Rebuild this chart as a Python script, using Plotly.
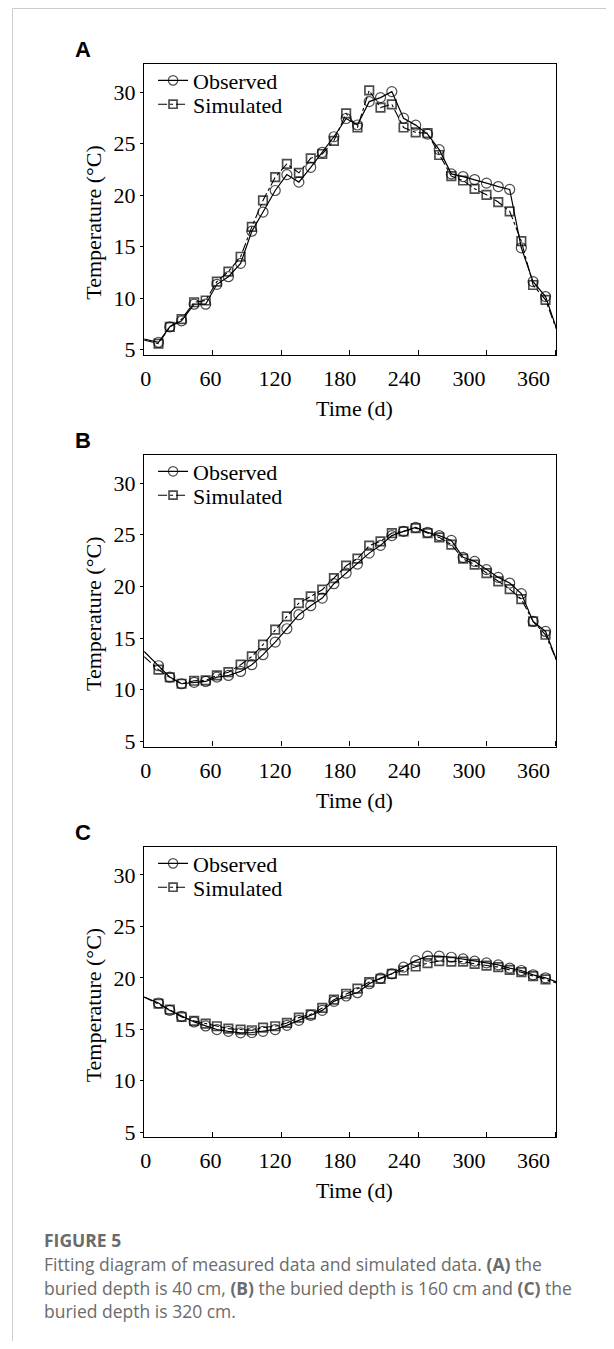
import plotly.graph_objects as go

# ---------------- data ----------------
days = [12.6, 22.5, 32.8, 43.8, 53.9, 63.7, 73.8, 84.5, 94.3, 104.1, 114.8, 125.0,
        135.5, 145.9, 156.0, 166.2, 176.9, 186.8, 197.1, 207.0, 216.9, 227.2, 237.8,
        248.2, 258.4, 269.0, 279.3, 289.4, 299.8, 310.1, 320.1, 330.3, 340.6, 351.5]
line_end_days = [0, 361]

a_obs = [5.73, 7.23, 7.81, 9.42, 9.42, 11.35, 12.09, 13.38, 16.5, 18.36, 20.45, 21.99,
         21.26, 22.7, 24.15, 25.66, 27.43, 26.8, 29.07, 29.46, 30.04, 27.46, 26.79,
         25.92, 24.41, 22.06, 21.8, 21.51, 21.16, 20.83, 20.55, 14.89, 11.61, 10.16]
a_obs_ends = [6.04, 7.1]
a_sim = [5.59, 7.23, 7.97, 9.61, 9.78, 11.61, 12.58, 14.02, 16.92, 19.49, 21.74, 23.03,
         22.16, 23.57, 23.99, 25.27, 27.92, 26.56, 30.16, 28.49, 28.81, 26.56, 26.08,
         26.01, 23.89, 21.84, 21.42, 20.61, 20.03, 19.33, 18.43, 15.53, 11.28, 9.84]
a_sim_ends = [5.95, 7.0]

b_obs = [12.32, 11.22, 10.58, 10.71, 10.8, 11.22, 11.38, 11.77, 12.42, 13.39, 14.61, 15.9,
         17.26, 18.13, 18.87, 20.26, 21.29, 22.16, 23.22, 23.97, 24.91, 25.32, 25.71,
         25.23, 24.91, 24.45, 22.81, 22.42, 21.62, 20.87, 20.32, 19.3, 16.61, 15.64]
b_obs_ends = [13.7, 12.9]
b_sim = [11.94, 11.19, 10.58, 10.87, 10.9, 11.38, 11.7, 12.42, 13.22, 14.36, 15.81, 17.1,
         18.38, 19.03, 19.68, 20.8, 22.0, 22.68, 23.94, 24.36, 25.16, 25.32, 25.64,
         25.16, 24.74, 24.04, 22.68, 22.1, 21.29, 20.48, 19.74, 18.77, 16.61, 15.32]
b_sim_ends = [13.2, 12.9]

c_obs = [17.55, 16.83, 16.25, 15.71, 15.32, 14.97, 14.8, 14.65, 14.68, 14.8, 14.97, 15.38,
         15.87, 16.35, 16.83, 17.71, 18.23, 18.55, 19.42, 19.97, 20.39, 21.04, 21.67,
         22.1, 22.1, 22.0, 21.84, 21.62, 21.45, 21.26, 20.94, 20.71, 20.29, 20.0]
c_obs_ends = [18.13, 19.6]
c_sim = [17.48, 16.9, 16.2, 15.81, 15.55, 15.29, 15.06, 14.97, 14.9, 15.16, 15.29, 15.61,
         16.13, 16.45, 17.07, 17.87, 18.45, 18.94, 19.58, 19.9, 20.39, 20.71, 21.1,
         21.42, 21.62, 21.58, 21.58, 21.36, 21.19, 21.04, 20.77, 20.55, 20.16, 19.85]
c_sim_ends = [18.13, 19.5]

x_tick_vals = [0, 60, 120, 180, 240, 300, 360]
y_tick_vals = [5, 10, 15, 20, 25, 30]
panel_letters = ["A", "B", "C"]
series_names = ["Observed", "Simulated"]
y_title = "Temperature (°C)"
x_title = "Time (d)"

# ---------------- layout geometry (page pixels) ----------------
PAGE_W, PAGE_H = 614, 1349
OFF = 8                      # default body margin of the html page
FW, FH = PAGE_W - OFF, PAGE_H - OFF
BOX_L, BOX_R = 141, 556
boxes = [(64, 357), (457.3, 751), (851.7, 1144)]   # (top, bottom)
X_RANGE = [0, 361]
X_LABEL_RANGE = [-1.57, 381.2]
Y_RANGE = [4.5, 32.75]

SERIF = "Liberation Serif, Times New Roman, serif"
SANS = "Liberation Sans, Arial, sans-serif"
CAP = "Open Sans, Lato, sans-serif"


def fx(p):
    return (p - OFF) / FW


def fy(p):
    return 1 - (p - OFF) / FH


panel_data = [
    (a_obs, a_obs_ends, a_sim, a_sim_ends),
    (b_obs, b_obs_ends, b_sim, b_sim_ends),
    (c_obs, c_obs_ends, c_sim, c_sim_ends),
]

fig = go.Figure()
layout = {}
annotations = []

for i, ((obs, obs_e, sim, sim_e), (top, bot)) in enumerate(zip(panel_data, boxes)):
    n = i + 1
    xs = "" if n == 1 else str(n)
    xa = "x" + xs
    ya = "y" + xs
    lab_n = n + 3
    x_all = [line_end_days[0]] + days + [line_end_days[1]]

    obs_sizes = [0] + [10] * len(days) + [0]
    sim_sizes = [0] + [8.5] * len(days) + [0]
    leg_obs = "legend" if n == 1 else "legend%d" % (2 * n - 1)
    leg_sim = "legend%d" % (2 * n)

    fig.add_trace(go.Scatter(
        x=x_all, y=[obs_e[0]] + obs + [obs_e[1]],
        mode="lines+markers", name=series_names[0],
        line=dict(color="black", width=1.2),
        marker=dict(symbol="circle-open", size=obs_sizes, color="black",
                    line=dict(width=1.2)),
        xaxis=xa, yaxis=ya, legend=leg_obs))
    fig.add_trace(go.Scatter(
        x=x_all, y=[sim_e[0]] + sim + [sim_e[1]],
        mode="lines+markers", name=series_names[1],
        line=dict(color="black", width=1.1, dash="dashdot"),
        marker=dict(symbol="square-open", size=sim_sizes, color="black",
                    line=dict(width=1.7)),
        xaxis=xa, yaxis=ya, legend=leg_sim))
    # empty trace so that the tick-label axis is drawn
    fig.add_trace(go.Scatter(x=[], y=[], xaxis="x%d" % lab_n, yaxis=ya,
                             showlegend=False, hoverinfo="skip"))

    dom_y = [fy(bot), fy(top)]
    layout["xaxis" + xs] = dict(
        domain=[fx(BOX_L), fx(BOX_R)], range=X_RANGE, anchor=ya,
        showline=True, mirror=True, linecolor="black", linewidth=1.3,
        ticks="inside", ticklen=5, tickwidth=1, tickcolor="black",
        tickvals=x_tick_vals, showticklabels=False,
        showgrid=False, zeroline=False, fixedrange=True)
    layout["xaxis%d" % lab_n] = dict(
        overlaying=xa, anchor=ya, side="bottom", range=X_LABEL_RANGE,
        tickvals=x_tick_vals, ticktext=[str(v) for v in x_tick_vals],
        ticks="", showline=False, showgrid=False, zeroline=False,
        tickfont=dict(family=SERIF, size=22, color="black"),
        ticklabelstandoff=8)
    layout["yaxis" + xs] = dict(
        domain=dom_y, range=Y_RANGE, anchor=xa,
        showline=True, mirror=True, linecolor="black", linewidth=1.3,
        ticks="outside", ticklen=3, tickwidth=1, tickcolor="black",
        tickvals=y_tick_vals,
        tickfont=dict(family=SERIF, size=22, color="black"),
        showgrid=False, zeroline=False, fixedrange=True)

    # legends (one per entry so rows sit tight like the reference)
    for k, leg in enumerate([leg_obs, leg_sim]):
        layout[leg] = dict(
            x=fx(150), xanchor="left", y=fy(top + 17 + 24 * k), yanchor="middle",
            bgcolor="rgba(0,0,0,0)", borderwidth=0,
            font=dict(family=SERIF, size=22, color="black"),
            itemwidth=30)

    annotations.append(dict(
        text="<b>%s</b>" % panel_letters[i], x=fx(79.5), y=fy(top - 14),
        xref="paper", yref="paper", showarrow=False, xanchor="center", yanchor="middle",
        font=dict(family=SANS, size=22, color="black")))
    annotations.append(dict(
        text=y_title, x=fx(90), y=fy((top + bot) / 2 + 13), textangle=-90,
        xref="paper", yref="paper", showarrow=False, xanchor="center", yanchor="middle",
        font=dict(family=SERIF, size=22, color="black")))
    annotations.append(dict(
        text=x_title, x=fx(353), y=fy(bot + 54),
        xref="paper", yref="paper", showarrow=False, xanchor="center", yanchor="middle",
        font=dict(family=SERIF, size=22, color="black")))

caption_lines = [
    "Fitting diagram of measured data and simulated data. <b>(A)</b> the",
    "buried depth is 40 cm, <b>(B)</b> the buried depth is 160 cm and <b>(C)</b> the",
    "buried depth is 320 cm.",
]
annotations.append(dict(
    text="<b>FIGURE 5</b>", x=fx(38), y=fy(1247), xref="paper", yref="paper",
    showarrow=False, xanchor="left", yanchor="middle",
    font=dict(family=CAP, size=17.5, color="#6b6b6b")))
for j, line in enumerate(caption_lines):
    annotations.append(dict(
        text=line, x=fx(38), y=fy(1272 + 23.5 * j), xref="paper", yref="paper",
        showarrow=False, xanchor="left", yanchor="middle",
        font=dict(family=CAP, size=17.5, color="#6b6b6b")))

shapes = [
    dict(type="line", xref="paper", yref="paper", x0=fx(8.5), x1=1, y0=fy(8.5), y1=fy(8.5),
         line=dict(color="#cccccc", width=1)),
    dict(type="line", xref="paper", yref="paper", x0=fx(8.5), x1=fx(8.5), y0=fy(8.5), y1=0,
         line=dict(color="#cccccc", width=1)),
]

fig.update_layout(
    width=FW, height=FH, margin=dict(l=0, r=0, t=0, b=0),
    paper_bgcolor="white", plot_bgcolor="white",
    annotations=annotations, shapes=shapes, showlegend=True,
    **layout)

fig.write_html("out.html")
